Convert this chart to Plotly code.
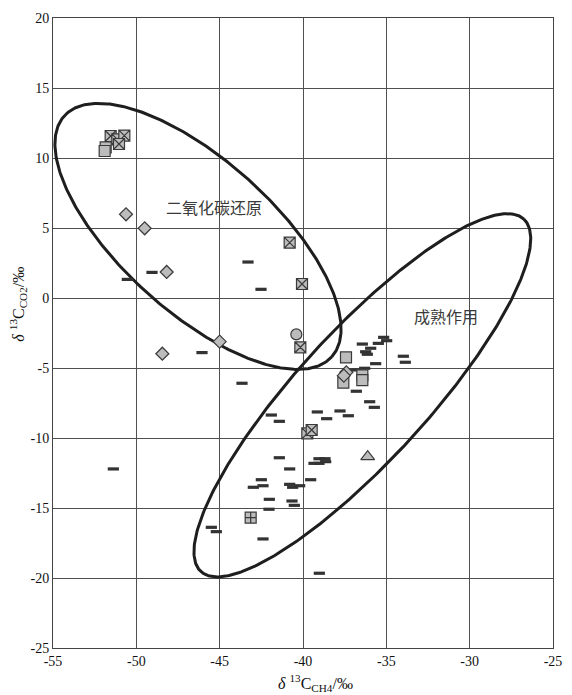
import numpy as np
import plotly.graph_objects as go

# ---- data ----
dash_x = [-49.06, -50.54, -43.3, -42.52, -46.06, -51.38,
          -43.66, -41.9, -41.42, -41.42, -40.8, -42.5, -42.98, -42.4, -40.8, -40.62, -40.2, -39.54,
          -39.04, -38.68, -38.64, -39.04, -39.34, -42.02, -42.04, -40.66, -40.52, -45.5, -45.2, -42.4, -39.02,
          -36.44, -35.48, -35.16, -34.98, -35.94, -36.24, -36.14, -35.64, -36.3, -36.9, -33.98, -33.86,
          -36.8, -36.0, -35.72, -39.14, -37.78, -38.58, -37.28]
dash_y = [1.83, 1.33, 2.57, 0.62, -3.9, -12.21,
          -6.09, -8.36, -8.81, -11.41, -12.21, -12.98, -13.52, -13.41, -13.31, -13.52, -13.41, -12.98,
          -11.48, -11.48, -11.69, -11.81, -11.81, -14.38, -15.09, -14.5, -14.81, -16.38, -16.69, -17.21, -19.66,
          -3.29, -3.24, -2.81, -3.05, -3.59, -3.84, -4.02, -4.69, -5.02, -5.14, -4.16, -4.59,
          -6.66, -7.41, -7.81, -8.14, -8.07, -8.62, -8.41]

xsq_x = [-51.54, -51.14, -50.72, -51.04, -40.8, -40.06, -40.16, -39.74, -39.48]
xsq_y = [11.57, 11.33, 11.6, 11.0, 3.95, 1.0, -3.52, -9.67, -9.43]

sq_x = [-51.84, -51.9, -37.42, -37.58, -36.44, -36.44]
sq_y = [10.76, 10.5, -4.24, -6.05, -5.52, -5.86]

dia_x = [-50.62, -49.5, -48.18, -48.44, -45.0, -37.4, -37.55]
dia_y = [5.98, 4.98, 1.86, -3.98, -3.12, -5.31, -5.55]

circ_x = [-40.4]
circ_y = [-2.6]

tri_x = [-36.12]
tri_y = [-11.33]

plus_x = [-43.14]
plus_y = [-15.69]

x_ticks = [-55, -50, -45, -40, -35, -30, -25]
y_ticks = [20, 15, 10, 5, 0, -5, -10, -15, -20, -25]

# ellipses: centre (data), semi-axes (screen px), rotation (deg)
ellipses = [(-46.3, 4.4, 180, 76, -42), (-36.44, -6.95, 239, 65, 47.5)]
KX, KY = 16.67, 14.0  # px per data unit

GRAY = "#bcbcbc"
EDGE = "#3a3a3a"

fig = go.Figure()
t = np.linspace(0, 2 * np.pi, 400)
for cx, cy, a, b, ang in ellipses:
    th = np.radians(ang)
    ex = cx + (a * np.cos(t) * np.cos(th) - b * np.sin(t) * np.sin(th)) / KX
    ey = cy + (a * np.cos(t) * np.sin(th) + b * np.sin(t) * np.cos(th)) / KY
    fig.add_trace(go.Scatter(x=ex, y=ey, mode="lines", line=dict(color="#1e1e1e", width=3),
                             hoverinfo="skip", showlegend=False))

fig.add_trace(go.Scatter(x=dash_x, y=dash_y, mode="markers", showlegend=False,
                         marker=dict(symbol="line-ew", size=8, line=dict(color="#333333", width=3.2))))
fig.add_trace(go.Scatter(x=sq_x, y=sq_y, mode="markers", showlegend=False,
                         marker=dict(symbol="square", size=11, color=GRAY, line=dict(color=EDGE, width=1.2))))
fig.add_trace(go.Scatter(x=xsq_x, y=xsq_y, mode="markers", showlegend=False,
                         marker=dict(symbol="square-x", size=11, color=GRAY, line=dict(color=EDGE, width=1.2))))
fig.add_trace(go.Scatter(x=dia_x, y=dia_y, mode="markers", showlegend=False,
                         marker=dict(symbol="diamond", size=10, color=GRAY, line=dict(color=EDGE, width=1.2))))
fig.add_trace(go.Scatter(x=circ_x, y=circ_y, mode="markers", showlegend=False,
                         marker=dict(symbol="circle", size=11, color=GRAY, line=dict(color=EDGE, width=1.2))))
fig.add_trace(go.Scatter(x=tri_x, y=tri_y, mode="markers", showlegend=False,
                         marker=dict(symbol="triangle-up", size=12, color=GRAY, line=dict(color=EDGE, width=1.2))))
fig.add_trace(go.Scatter(x=plus_x, y=plus_y, mode="markers", showlegend=False,
                         marker=dict(symbol="square-cross", size=11, color=GRAY, line=dict(color=EDGE, width=1.2))))

fig.add_annotation(x=-45.34, y=6.5, text="二氧化碳还原", showarrow=False,
                   font=dict(family="Noto Sans CJK SC", size=16, color="#3a3a3a"))
fig.add_annotation(x=-31.42, y=-1.29, text="成熟作用", showarrow=False,
                   font=dict(family="Noto Sans CJK SC", size=16, color="#3a3a3a"))

# axis titles
fig.add_annotation(xref="paper", yref="paper", x=0.524, y=-0.056, yanchor="middle",
                   text="<i>δ</i> <sup>13</sup>C<sub>CH4</sub>/‰", showarrow=False,
                   font=dict(family="Liberation Serif", size=16, color="#111"))
fig.add_annotation(xref="paper", yref="paper", x=-0.07, y=0.545, xanchor="center",
                   text="<i>δ</i> <sup>13</sup>C<sub>CO2</sub>/‰", showarrow=False, textangle=-90,
                   font=dict(family="Liberation Serif", size=16, color="#111"))

axis_common = dict(showgrid=True, gridcolor="#505050", gridwidth=1, zeroline=False,
                   showline=True, linecolor="#444", linewidth=1, mirror=True, automargin=False,
                   ticks="", tickfont=dict(family="Liberation Serif", size=14, color="#111"))
fig.update_xaxes(range=[-55, -25], tickvals=x_ticks, ticktext=[str(v) for v in x_ticks], **axis_common)
fig.update_yaxes(range=[-25, 20], tickvals=y_ticks, ticktext=[str(v) for v in y_ticks], **axis_common)
# the page body adds an 8px offset, so the figure is drawn 8px smaller
fig.update_layout(width=564, height=687, margin=dict(l=45, r=19, t=10, b=47, autoexpand=False),
                  plot_bgcolor="white", paper_bgcolor="white", showlegend=False)
fig.write_html("out.html")
